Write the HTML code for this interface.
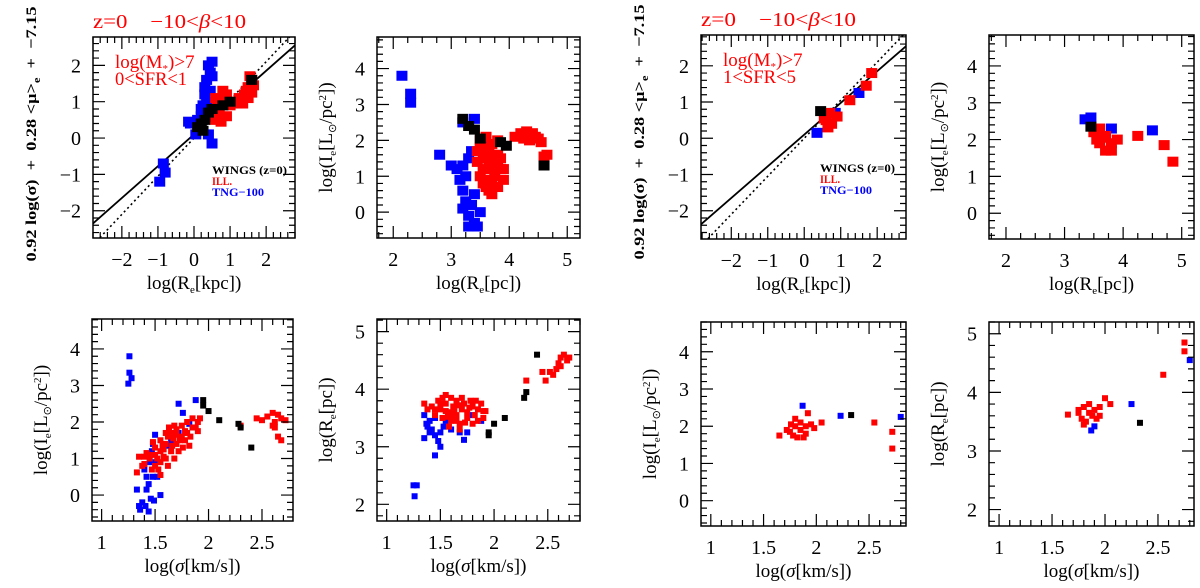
<!DOCTYPE html>
<html><head><meta charset="utf-8"><style>
html,body{margin:0;padding:0;background:#fff;width:1200px;height:588px;overflow:hidden}
svg text{font-family:"Liberation Serif",serif}
</style></head><body>
<svg id="fig" width="1200" height="588" viewBox="0 0 1200 588" xmlns="http://www.w3.org/2000/svg"></svg>
<script>
// ---- data (estimated from figure) ----
const p1Blue=[[-0.85,-0.7],[-0.8,-0.95],[-0.95,-1.2],[0.2,0.6],[0.3,1.2],[0.35,1.6],[0.4,2.0],[0.5,2.1],[0.45,1.8],[0.3,1.4],[0.25,0.9],[0.1,0.5],[-0.1,0.4],[-0.15,0.45],[0.05,0.1],[0.4,0.1],[0.5,-0.15],[0.6,0.7],[0.35,1.0],[0.2,0.8],[0.45,1.3],[0.5,1.7],[0.4,0.6]];
const p1Red=[[0.6,0.5],[0.7,0.7],[0.7,1.0],[0.8,1.3],[0.9,1.2],[0.8,0.9],[0.9,0.6],[1.0,0.9],[1.1,1.0],[1.2,0.95],[1.3,1.0],[1.4,1.2],[1.5,1.4],[1.6,1.6],[1.65,1.45],[1.5,1.1],[0.6,1.1],[0.75,0.45],[1.55,1.7],[1.35,0.95],[0.85,1.1],[0.65,0.85],[1.45,1.3],[1.6,1.25],[1.25,1.1]];
const p1Black=[[0.1,0.3],[0.2,0.4],[0.3,0.5],[0.4,0.7],[0.5,0.8],[0.8,0.9],[1.0,1.0],[1.6,1.6],[0.25,0.2]];
const p2Blue=[[2.15,3.8],[2.3,3.3],[2.3,3.05],[2.8,1.6],[3.2,2.5],[3.4,2.6],[3.6,1.9],[3.0,1.3],[3.2,1.3],[3.3,1.5],[3.15,0.9],[3.2,0.6],[3.25,0.3],[3.2,0.1],[3.35,0.2],[3.3,-0.1],[3.4,-0.3],[3.45,-0.4],[3.3,-0.4],[3.5,0.0],[3.4,0.5],[3.25,1.0],[3.1,1.2],[3.35,1.7]];
const p2Red=[[3.5,2.0],[3.6,2.1],[3.7,1.9],[3.8,1.6],[3.85,1.2],[3.9,0.9],[3.8,0.7],[3.7,0.5],[3.6,0.7],[3.5,1.0],[3.45,1.4],[3.55,1.6],[3.65,1.3],[3.75,1.0],[3.6,0.9],[3.7,1.6],[3.55,1.2],[3.65,0.6],[3.8,2.0],[3.85,1.5],[3.5,1.8],[3.6,1.5],[3.7,1.2],[3.75,1.4],[3.65,1.8],[3.55,0.8],[3.8,1.3],[3.7,0.8],[3.45,1.7],[3.9,1.2],[4.1,2.1],[4.2,2.2],[4.3,2.25],[4.4,2.2],[4.5,2.05],[4.55,1.95],[4.6,1.55],[4.65,1.6],[4.35,2.0],[4.25,2.05],[4.45,2.1]];
const p2Black=[[3.2,2.6],[3.3,2.4],[3.4,2.3],[3.5,2.05],[3.85,1.95],[3.95,1.85],[4.6,1.3]];
const p5Blue=[[1.26,3.8],[1.26,3.35],[1.28,3.2],[1.25,3.05],[1.72,2.5],[1.76,2.25],[1.88,2.6],[1.82,1.95],[1.72,1.7],[1.65,1.5],[1.62,1.35],[1.5,1.65],[1.48,1.4],[1.47,1.2],[1.45,0.9],[1.5,0.9],[1.4,0.7],[1.42,0.5],[1.48,0.5],[1.52,0.5],[1.44,0.3],[1.42,0.15],[1.33,0.15],[1.55,0.0],[1.46,-0.1],[1.38,-0.2],[1.35,-0.3],[1.36,-0.4],[1.44,-0.45],[1.41,-0.3],[1.49,-0.15]];
const p5Red=[[1.33,0.62],[1.38,0.8],[1.4,1.05],[1.45,1.1],[1.5,1.1],[1.55,1.2],[1.5,0.8],[1.55,0.9],[1.55,0.55],[1.6,1.0],[1.6,1.4],[1.65,1.2],[1.65,1.7],[1.7,1.4],[1.7,1.8],[1.75,1.6],[1.75,1.9],[1.8,1.7],[1.8,2.0],[1.85,1.85],[1.85,2.1],[1.9,2.0],[1.92,2.1],[1.6,1.7],[1.55,1.5],[1.5,1.3],[1.45,1.0],[1.4,0.85],[1.62,0.8],[1.68,1.0],[1.72,1.2],[1.78,1.5],[1.82,1.35],[1.7,1.65],[1.58,1.25],[1.53,0.7],[1.48,1.45],[1.76,1.3],[1.88,1.85],[1.63,1.85],[1.35,1.05],[1.42,1.15],[1.58,1.05],[1.67,1.55],[1.62,1.6],[1.57,1.35],[1.52,1.0],[1.73,1.5],[1.78,1.75],[1.83,1.6],[1.66,1.35],[1.47,0.7],[1.68,1.9],[1.9,1.75],[2.45,2.1],[2.5,2.05],[2.55,2.15],[2.6,2.25],[2.62,2.0],[2.65,2.2],[2.68,2.1],[2.6,1.9],[2.62,1.85],[2.65,1.6],[2.68,1.5],[2.72,2.05],[2.3,1.9]];
const p5Black=[[1.95,2.6],[1.95,2.45],[2.0,2.3],[2.1,2.05],[2.28,1.95],[2.3,1.85],[2.4,1.3]];
const p6Blue=[[1.25,2.33],[1.28,2.33],[1.26,2.14],[1.35,3.55],[1.37,3.4],[1.4,3.45],[1.45,3.5],[1.35,3.15],[1.4,3.25],[1.45,3.2],[1.5,3.25],[1.5,3.0],[1.48,3.1],[1.45,2.85],[1.42,3.3],[1.38,3.35],[1.55,3.45],[1.6,3.3],[1.68,3.25],[1.72,3.12],[1.75,3.25],[1.8,3.55],[1.88,3.45],[1.53,3.35]];
const p6Red=[[1.35,3.75],[1.38,3.65],[1.42,3.7],[1.45,3.55],[1.48,3.8],[1.5,3.65],[1.52,3.5],[1.55,3.75],[1.55,3.9],[1.58,3.6],[1.6,3.85],[1.6,3.45],[1.62,3.7],[1.65,3.55],[1.65,3.8],[1.68,3.4],[1.7,3.65],[1.72,3.75],[1.75,3.5],[1.75,3.6],[1.78,3.8],[1.8,3.7],[1.8,3.4],[1.82,3.55],[1.85,3.65],[1.88,3.75],[1.9,3.5],[1.92,3.62],[1.58,3.35],[1.68,3.3],[1.45,3.65],[1.52,3.85],[1.7,3.85],[1.63,3.62],[1.57,3.52],[1.73,3.42],[1.85,3.45],[1.5,3.75],[1.6,3.55],[1.67,3.72],[1.77,3.68],[1.83,3.8],[1.9,3.62],[1.55,3.62],[1.65,3.45],[2.3,4.15],[2.45,4.3],[2.48,4.15],[2.52,4.3],[2.55,4.25],[2.58,4.35],[2.6,4.45],[2.62,4.55],[2.65,4.6],[2.68,4.5],[2.7,4.55],[2.62,4.4]];
const p6Black=[[1.95,3.25],[1.95,3.2],[2.0,3.4],[2.1,3.5],[2.28,3.85],[2.3,3.95],[2.4,4.6]];
const p3Blue=[[0.35,0.15],[0.85,0.7],[1.5,1.25]];
const p3Red=[[0.6,0.5],[0.7,0.7],[0.75,0.4],[0.65,0.3],[0.9,0.6],[1.25,1.05],[1.7,1.45],[1.85,1.8],[0.55,0.55]];
const p3Black=[[0.45,0.75]];
const p4Blue=[[3.35,2.55],[3.45,2.6],[3.8,2.3],[4.5,2.25]];
const p4Red=[[3.5,2.2],[3.6,2.3],[3.7,2.1],[3.8,1.9],[3.6,1.9],[3.7,1.7],[3.8,1.7],[3.9,2.0],[3.55,2.0],[3.65,2.05],[4.25,2.1],[4.7,1.85],[4.85,1.4]];
const p4Black=[[3.45,2.35]];
const p7Blue=[[1.87,2.55],[2.23,2.28],[2.8,2.25]];
const p7Red=[[1.65,1.75],[1.75,1.85],[1.8,2.0],[1.8,2.2],[1.85,2.1],[1.78,1.75],[1.82,1.7],[1.85,1.9],[1.9,2.0],[1.92,2.35],[1.95,2.05],[1.98,1.95],[2.05,2.1],[1.88,1.7],[1.76,2.05],[2.55,2.1],[2.72,1.85],[2.72,1.4],[1.72,1.9],[1.9,1.8]];
const p7Black=[[2.33,2.3]];
const p8Blue=[[1.87,3.35],[1.9,3.42],[2.25,3.8],[2.8,4.55]];
const p8Red=[[1.65,3.62],[1.75,3.65],[1.78,3.55],[1.8,3.75],[1.82,3.5],[1.85,3.8],[1.85,3.65],[1.88,3.6],[1.9,3.7],[1.92,3.55],[1.95,3.75],[1.8,3.45],[1.75,3.7],[2.0,3.9],[2.05,3.8],[1.95,3.6],[2.55,4.3],[2.75,4.7],[2.75,4.85]];
const p8Black=[[2.33,3.48]];
const solidLine=[0.875,0.1];
const dottedLine=[1.05,0.0];
const xTicksKpc=[-2,-1,0,1,2];
const yTicksScal=[-2,-1,0,1,2];
const xTicksPc=[2,3,4,5];
const yTicksI=[0,1,2,3,4];
const xTicksSig=[1,1.5,2,2.5];
const yTicksRe=[2,3,4,5];

const NS='http://www.w3.org/2000/svg';
const svg=document.getElementById('fig');
function el(tag,attrs,parent){const e=document.createElementNS(NS,tag);for(const k in attrs)e.setAttribute(k,attrs[k]);(parent||svg).appendChild(e);return e;}

function panel(name,box,xr,yr,xt,yt,xminor,yminor,xlab,ylab,series,mw,mh,extra){
  const g=el('g',{});
  
  
  const [x0,y0,x1,y1]=box;
  const sx=v=>x0+(v-xr[0])/(xr[1]-xr[0])*(x1-x0);
  const sy=v=>y1-(v-yr[0])/(yr[1]-yr[0])*(y1-y0);
  const cp=el('clipPath',{id:'c'+name},g);el('rect',{x:x0,y:y0,width:x1-x0,height:y1-y0},cp);
  const pg=el('g',{'clip-path':'url(#c'+name+')'},g);
  if(extra)extra(pg,sx,sy,xr);
  series.forEach(([pts,col])=>{pts.forEach(p=>{
    const r=el('rect',{x:sx(p[0])-mw/2,y:sy(p[1])-mh/2,width:mw,height:mh,fill:col},pg);
    
    
  });});
  let d='';
  const isMaj=(v,t)=>t.some(m=>Math.abs(m-v)<1e-6);
  for(let v=Math.ceil(xr[0]/xminor-1e-9)*xminor;v<=xr[1]+1e-9;v+=xminor){
    const L=isMaj(v,xt)||Math.abs(v-Math.round(v))<1e-6?12:6;const X=sx(v);
    d+=`M${X},${y1}v${-L}M${X},${y0}v${L}`;}
  for(let v=Math.ceil(yr[0]/yminor-1e-9)*yminor;v<=yr[1]+1e-9;v+=yminor){
    const L=isMaj(v,yt)?12:6;const Y=sy(v);
    d+=`M${x0},${Y}h${L}M${x1},${Y}h${-L}`;}
  el('path',{d:d,stroke:'#000','stroke-width':1.2,fill:'none'},g);
  el('rect',{x:x0,y:y0,width:x1-x0,height:y1-y0,fill:'none',stroke:'#000','stroke-width':1.5},g);
  xt.forEach(v=>{const t=el('text',{x:sx(v),y:y1+28,'font-size':20,'text-anchor':'middle'},g);t.textContent=String(v).replace('-','\u2212');
    });
  yt.forEach(v=>{const t=el('text',{x:x0-12,y:sy(v)+7,'font-size':20,'text-anchor':'end'},g);t.textContent=String(v).replace('-','\u2212');
    });
  const xl=el('text',{x:(x0+x1)/2,y:y1+51,'font-size':19,'text-anchor':'middle'},g);xl.innerHTML=xlab;
  
  if(ylab){const cx=x0-45,cy=(y0+y1)/2;const yl=el('text',{x:cx,y:cy,'font-size':19,'text-anchor':'middle',transform:`rotate(-90 ${cx} ${cy})`},g);yl.innerHTML=ylab;
    }
}
function lines(pg,sx,sy,xr){
  const a=el('line',{x1:sx(xr[0]),y1:sy(solidLine[0]*xr[0]+solidLine[1]),x2:sx(xr[1]),y2:sy(solidLine[0]*xr[1]+solidLine[1]),stroke:'#000','stroke-width':1.8},pg);
  
  const b=el('line',{x1:sx(xr[0]),y1:sy(dottedLine[0]*xr[0]+dottedLine[1]),x2:sx(xr[1]),y2:sy(dottedLine[0]*xr[1]+dottedLine[1]),stroke:'#000','stroke-width':1.6,'stroke-dasharray':'2,3'},pg);
  
}
const B='#0000ff',R='#ff0000',K='#000';
const kpc='log(R<tspan font-size="11" dy="4">e</tspan><tspan dy="-4">[kpc])</tspan>';
const pc='log(R<tspan font-size="11" dy="4">e</tspan><tspan dy="-4">[pc])</tspan>';
const sig='log(<tspan font-style="italic">σ</tspan>[km/s])';
const Ilab='log(I<tspan font-size="11" dy="4">e</tspan><tspan dy="-4">[L</tspan><tspan font-size="11" dy="4">⊙</tspan><tspan dy="-4">/pc</tspan><tspan font-size="11" dy="-6">2</tspan><tspan dy="6">])</tspan>';
const Rlab='log(R<tspan font-size="11" dy="4">e</tspan><tspan dy="-4">[pc])</tspan>';

panel('panel-scaling-sfr0-1',[93,37,295,238],[-2.8,2.8],[-2.75,2.78],xTicksKpc,yTicksScal,0.2,0.2,kpc,null,[[p1Blue,B],[p1Red,R],[p1Black,K]],11,10,lines);
panel('panel-re-ie-sfr0-1',[377,37,580,238],[1.72,5.22],[-0.72,4.88],xTicksPc,yTicksI,0.25,0.2,pc,Ilab,[[p2Blue,B],[p2Red,R],[p2Black,K]],11,10);
panel('panel-sigma-ie-sfr0-1',[92,319,293,521],[0.91,2.79],[-0.71,4.82],xTicksSig,yTicksI,0.1,0.2,sig,Ilab,[[p5Blue,B],[p5Red,R],[p5Black,K]],6,6);
panel('panel-sigma-re-sfr0-1',[377,319,580,521],[0.91,2.8],[1.71,5.22],xTicksSig,yTicksRe,0.1,0.2,sig,Rlab,[[p6Blue,B],[p6Red,R],[p6Black,K]],6,6);
panel('panel-scaling-sfr1-5',[701,35,906,239],[-2.83,2.79],[-2.78,2.85],xTicksKpc,yTicksScal,0.2,0.2,kpc,null,[[p3Blue,B],[p3Red,R],[p3Black,K]],11,10,lines);
panel('panel-re-ie-sfr1-5',[989,35,1194,239],[1.71,5.21],[-0.7,4.84],xTicksPc,yTicksI,0.25,0.2,pc,Ilab,[[p4Blue,B],[p4Red,R],[p4Black,K]],11,10);
panel('panel-sigma-ie-sfr1-5',[701,322,906,526],[0.907,2.85],[-0.68,4.8],xTicksSig,yTicksI,0.1,0.2,sig,Ilab,[[p7Blue,B],[p7Red,R],[p7Black,K]],6,6);
panel('panel-sigma-re-sfr1-5',[989,322,1194,526],[0.905,2.84],[1.72,5.2],xTicksSig,yTicksRe,0.1,0.2,sig,Rlab,[[p8Blue,B],[p8Red,R],[p8Black,K]],6,6);

function txt(name,x,y,s,attrs){const t=el('text',Object.assign({x:x,y:y},attrs));t.innerHTML=s;return t;}
[[93,37,0],[701,35,1]].forEach(([bx,by,i])=>{
  txt('panel-title',bx,by-9,'z=0&#160;&#160;&#160;&#160;−10&lt;<tspan font-style="italic">β</tspan>&lt;10',{'font-size':20,fill:R,textLength:i?155:153,lengthAdjust:'spacingAndGlyphs'});
  const cx=bx-57,cy=by+97;
  txt('y-axis-title',cx,cy,'0.92 log(σ)&#160;&#160;+&#160;&#160;0.28 &lt;μ&gt;<tspan font-size="10" dy="4">e</tspan><tspan dy="-4">&#160;&#160;+&#160;&#160;−7.15</tspan>',{'font-size':15,'font-weight':'bold','font-family':'Liberation Sans, sans-serif','text-anchor':'middle',textLength:255,lengthAdjust:'spacingAndGlyphs',transform:`rotate(-90 ${cx} ${cy})`});
  txt('mass-cut-label',bx+22,by+31,'log(M<tspan font-size="11" dy="4">*</tspan><tspan dy="-4">)&gt;7</tspan>',{'font-size':19,fill:R});
  txt('sfr-cut-label',bx+22,by+48,i==0?'0&lt;SFR&lt;1':'1&lt;SFR&lt;5',{'font-size':19,fill:R,textLength:i?73:72,lengthAdjust:'spacingAndGlyphs'});
  txt('legend-wings',bx+119,by+137,'WINGS (z=0)',{'font-size':12,'font-weight':'bold',fill:K,textLength:75,lengthAdjust:'spacingAndGlyphs'});
  txt('legend-ill',bx+119,by+148,'ILL.',{'font-size':12,'font-weight':'bold',fill:R,textLength:20,lengthAdjust:'spacingAndGlyphs'});
  txt('legend-tng',bx+119,by+159,'TNG−100',{'font-size':12,'font-weight':'bold',fill:B,textLength:52,lengthAdjust:'spacingAndGlyphs'});
});
</script>
</body></html>
